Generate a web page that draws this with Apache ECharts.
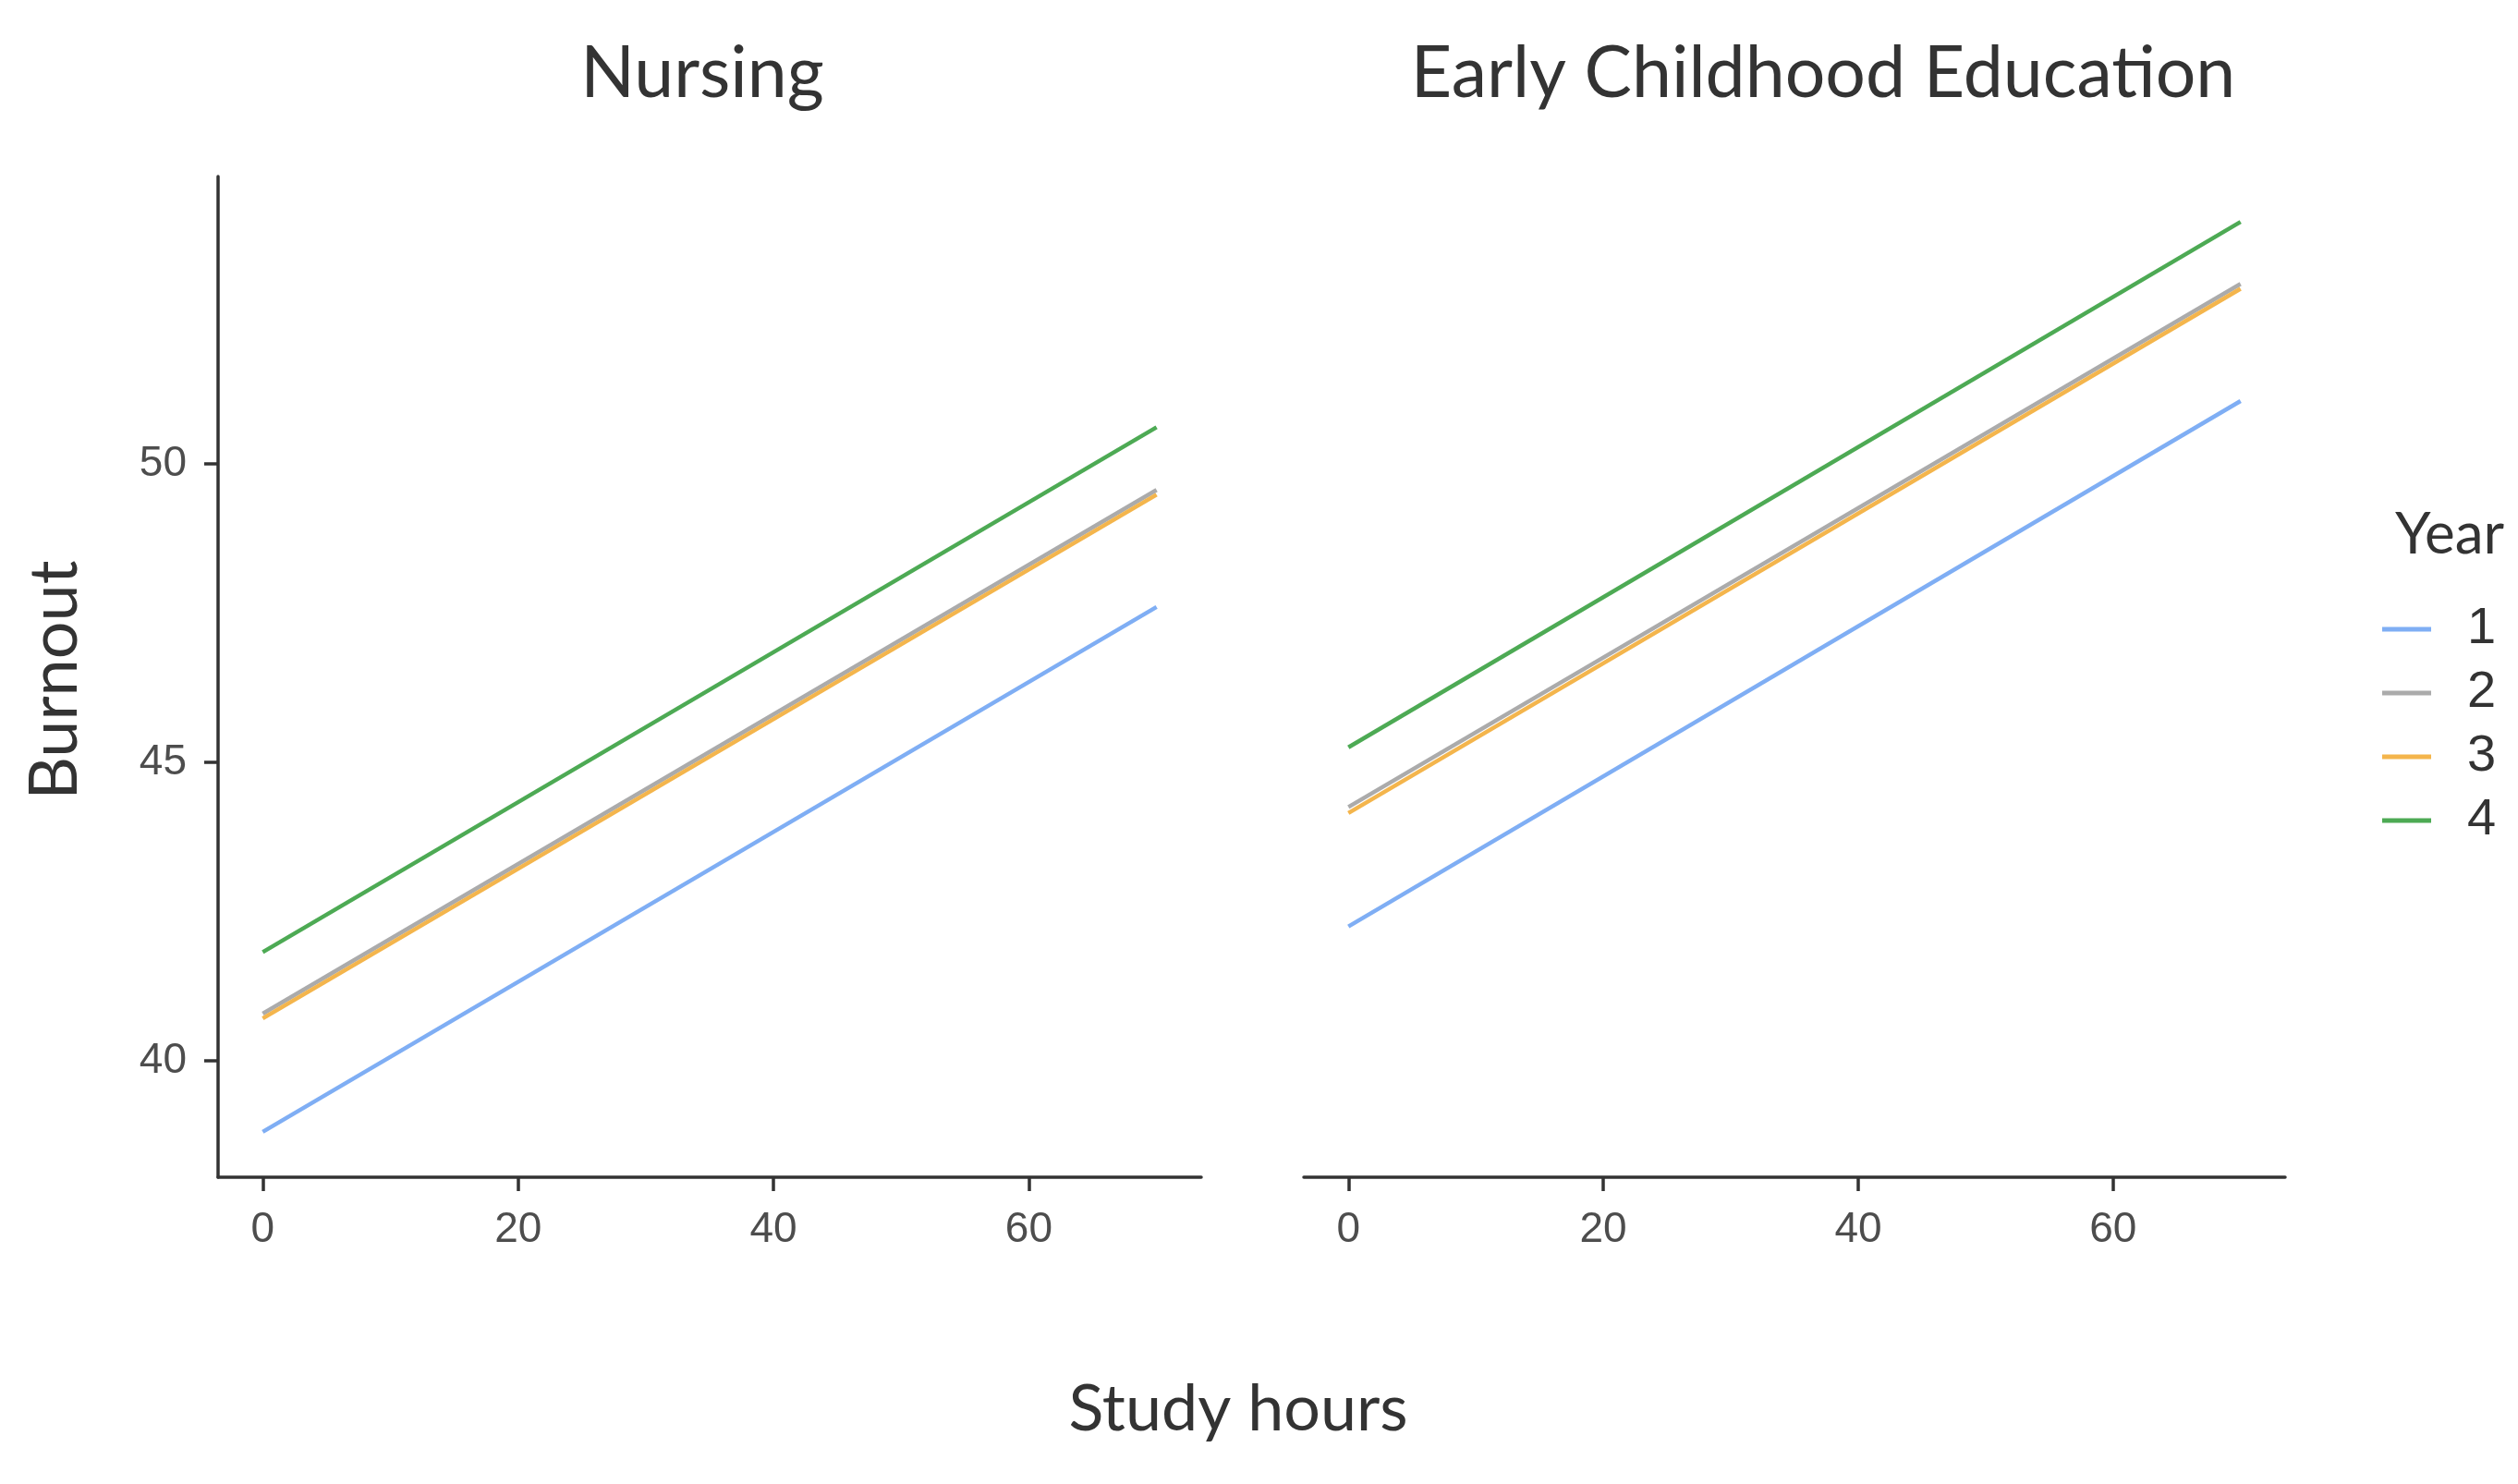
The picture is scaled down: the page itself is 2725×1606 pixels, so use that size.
<!DOCTYPE html>
<html>
<head>
<meta charset="utf-8">
<script src="https://cdn.jsdelivr.net/npm/echarts@6/dist/echarts.min.js"></script>
<style>
  html, body { margin: 0; padding: 0; background: #fff; }
  #chart { width: 2725px; height: 1606px; }
</style>
</head>
<body>
<div id="chart"></div>
<script>
// study hours at the two ends of each fitted line
const studyHours = [0, 70];
const years = ["1", "2", "3", "4"];

// Burnout predicted at 0 and 70 study hours
const nursingY1 = [38.81, 47.6];
const nursingY2 = [40.79, 49.56];
const nursingY3 = [40.71, 49.48];
const nursingY4 = [41.82, 50.61];

const eceY1 = [42.25, 51.05];
const eceY2 = [44.25, 53.01];
const eceY3 = [44.15, 52.93];
const eceY4 = [45.25, 54.05];

const xTicks = [0, 20, 40, 60];
const yTicks = [40, 45, 50];

const colors = ["#7FAEF4", "#ABABAB", "#F4B54C", "#4DAA54"];

const nursing = [nursingY1, nursingY2, nursingY3, nursingY4];
const ece = [eceY1, eceY2, eceY3, eceY4];

const pts = (vals) => studyHours.map((h, i) => [h, vals[i]]);

let myChart = echarts.init(document.getElementById("chart"));

const axisColor = "#333";
const labelStyle = {
  color: "#4d4d4d",
  fontSize: 46,
  fontFamily: "Liberation Sans",
};

function xAxis(idx) {
  return {
    type: "value",
    gridIndex: idx,
    min: -3.5,
    max: 73.5,
    splitLine: { show: false },
    axisLine: { show: true, onZero: false, lineStyle: { color: axisColor, width: 3.5 } },
    axisTick: { show: true, length: 15, lineStyle: { color: axisColor, width: 3.5 }, customValues: xTicks },
    axisLabel: Object.assign({ margin: 34, customValues: xTicks }, labelStyle),
  };
}

function yAxis(idx, visible) {
  return {
    type: "value",
    gridIndex: idx,
    min: 38.05,
    max: 54.81,
    show: visible,
    splitLine: { show: false },
    axisLine: { show: true, onZero: false, lineStyle: { color: axisColor, width: 3.5 } },
    axisTick: { show: true, length: 15, lineStyle: { color: axisColor, width: 3.5 }, customValues: yTicks },
    axisLabel: Object.assign({ margin: 34, customValues: yTicks }, labelStyle),
  };
}

let series = [];
[nursing, ece].forEach((panel, p) => {
  panel.forEach((vals, i) => {
    series.push({
      name: years[i],
      type: "line",
      xAxisIndex: p,
      yAxisIndex: p,
      data: pts(vals),
      symbol: "none",
      color: colors[i],
      lineStyle: { width: 4.5, color: colors[i] },
      silent: true,
    });
  });
});

const titleFont = { fontFamily: "Lato", fontSize: 77, fill: "#333" };

myChart.setOption({
  animation: false,
  grid: [
    { left: 236, top: 191, width: 1064, height: 1083 },
    { left: 1411, top: 191, width: 1062, height: 1083 },
  ],
  xAxis: [xAxis(0), xAxis(1)],
  yAxis: [yAxis(0, true), yAxis(1, false)],
  legend: {
    data: years,
    orient: "vertical",
    left: 2573,
    top: 648,
    icon: "rect",
    itemWidth: 53,
    itemHeight: 5,
    itemGap: 13,
    textStyle: {
      fontSize: 56,
      lineHeight: 56,
      color: "#333",
      fontFamily: "Liberation Sans",
      padding: [0, 0, 0, 34],
    },
  },
  graphic: [
    { type: "text", x: 760, y: 80, style: Object.assign({ text: "Nursing", align: "center", verticalAlign: "middle" }, titleFont) },
    { type: "text", x: 1973, y: 80, style: Object.assign({ text: "Early Childhood Education", align: "center", verticalAlign: "middle" }, titleFont) },
    { type: "text", x: 1340, y: 1525, style: Object.assign({ text: "Study hours", align: "center", verticalAlign: "middle" }, titleFont, { fontSize: 70 }) },
    { type: "text", x: 60, y: 736, rotation: Math.PI / 2, style: Object.assign({ text: "Burnout", align: "center", verticalAlign: "middle" }, titleFont, { fontSize: 72 }) },
    { type: "text", x: 2651, y: 579, style: Object.assign({ text: "Year", align: "center", verticalAlign: "middle" }, titleFont, { fontSize: 62 }) },
  ],
  series: series,
});
</script>
</body>
</html>
